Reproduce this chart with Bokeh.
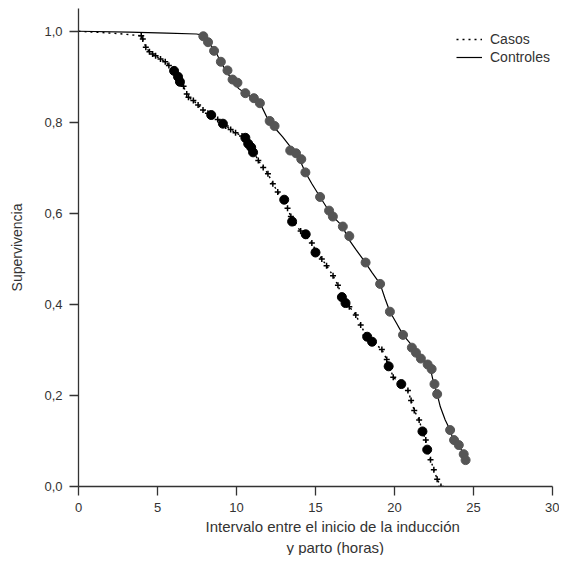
from bokeh.plotting import figure
from bokeh.models import Range1d, FixedTicker, CustomJSTickFormatter, Legend, LegendItem, Title
from bokeh.embed import file_html
from bokeh.resources import INLINE

# ---- data ----
casos_t = [0, 1.5, 2.5, 3.97, 4.07, 4.26, 4.49, 4.69, 4.88, 5.19, 5.49, 5.72, 6.03, 6.23, 6.42,
           6.65, 6.85, 6.96, 7.27, 7.57, 7.88, 8.19, 8.50, 8.81, 9.12, 9.32, 9.63, 9.94, 10.35,
           10.56, 10.76, 11.05, 11.38, 11.69, 11.99, 12.30, 12.61, 13.02, 13.23, 13.44, 13.64,
           14.06, 14.36, 14.77, 15.08, 15.40, 15.70, 16.11, 16.42, 16.73, 17.14, 17.55, 17.86,
           18.17, 18.58, 19.20, 19.51, 19.71, 19.92, 20.43, 20.85, 21.05, 21.25, 21.56, 21.77,
           21.98, 22.08, 22.28, 22.49, 22.70, 22.94]
casos_s = [1.0, 0.997, 0.995, 0.990, 0.983, 0.965, 0.955, 0.950, 0.946, 0.939, 0.933, 0.925,
           0.914, 0.903, 0.889, 0.879, 0.862, 0.855, 0.848, 0.838, 0.827, 0.820, 0.814, 0.806,
           0.799, 0.792, 0.784, 0.777, 0.770, 0.759, 0.750, 0.738, 0.716, 0.701, 0.687, 0.665,
           0.647, 0.629, 0.611, 0.593, 0.579, 0.561, 0.550, 0.535, 0.514, 0.500, 0.485, 0.463,
           0.442, 0.413, 0.395, 0.377, 0.355, 0.333, 0.319, 0.301, 0.279, 0.261, 0.240, 0.225,
           0.211, 0.189, 0.167, 0.146, 0.121, 0.102, 0.081, 0.059, 0.037, 0.016, 0.0]

casos_circ_t = [6.05, 6.30, 6.42, 8.40, 9.14, 10.56, 10.74, 10.93, 11.05, 13.02, 13.52, 14.38,
                15.0, 16.67, 16.90, 18.27, 18.58, 19.63, 20.43, 21.77, 22.07]
casos_circ_s = [0.913, 0.900, 0.889, 0.816, 0.797, 0.766, 0.753, 0.745, 0.734, 0.630, 0.582,
                0.554, 0.514, 0.416, 0.403, 0.329, 0.318, 0.264, 0.225, 0.121, 0.081]

ctrl_t = [0, 3.2, 5.6, 7.47, 8.09, 8.40, 8.70, 9.01, 9.32, 9.73, 10.14, 10.56, 11.07, 11.59,
          11.99, 12.41, 12.92, 13.44, 13.85, 14.36, 14.77, 15.29, 15.80, 16.22, 16.73, 17.04,
          17.55, 18.07, 18.58, 19.09, 19.40, 19.71, 20.12, 20.54, 21.05, 21.46, 21.87, 22.28,
          22.49, 22.70, 22.90, 23.21, 23.52, 23.72, 24.03, 24.34, 24.51, 24.60]
ctrl_s = [1.0, 0.998, 0.996, 0.994, 0.990, 0.968, 0.954, 0.932, 0.914, 0.892, 0.874, 0.864,
          0.853, 0.835, 0.806, 0.788, 0.768, 0.745, 0.730, 0.690, 0.665, 0.636, 0.608, 0.589,
          0.571, 0.546, 0.521, 0.496, 0.470, 0.445, 0.413, 0.384, 0.359, 0.333, 0.312, 0.290,
          0.276, 0.258, 0.225, 0.203, 0.175, 0.146, 0.124, 0.102, 0.092, 0.074, 0.059, 0.052]

ctrl_circ_t = [7.90, 8.20, 8.58, 9.01, 9.43, 9.75, 10.06, 10.56, 11.10, 11.48, 12.10, 12.41,
               13.40, 13.77, 14.10, 14.36, 15.29, 15.86, 16.10, 16.73, 17.14, 18.17, 19.09,
               19.71, 20.54, 21.10, 21.36, 21.67, 22.10, 22.35, 22.53, 22.70, 23.52, 23.77,
               24.07, 24.38, 24.50]
ctrl_circ_s = [0.989, 0.976, 0.957, 0.933, 0.914, 0.894, 0.887, 0.864, 0.853, 0.842, 0.803,
               0.792, 0.738, 0.732, 0.719, 0.690, 0.636, 0.606, 0.593, 0.571, 0.550, 0.492,
               0.445, 0.384, 0.333, 0.305, 0.294, 0.281, 0.268, 0.258, 0.225, 0.203, 0.124,
               0.102, 0.091, 0.071, 0.058]

x_ticks = [0, 5, 10, 15, 20, 25, 30]
y_ticks = [0.0, 0.2, 0.4, 0.6, 0.8, 1.0]

x_title = ["Intervalo  entre el inicio de la inducción", "y parto (horas)"]
y_title = "Supervivencia"

FONT = "Liberation Sans"
TXT = "#333333"

p = figure(width=559, height=555, output_backend="svg", toolbar_location=None,
           x_range=Range1d(0, 30), y_range=Range1d(0, 1.05),
           min_border_left=78, min_border_right=7, min_border_top=8, min_border_bottom=64)
p.xgrid.visible = False
p.ygrid.visible = False
p.outline_line_color = None
p.background_fill_color = "white"
p.border_fill_color = "white"

# curves
r_casos = p.line(casos_t, casos_s, line_color="black", line_width=1.4, line_dash="dotted")
p.scatter(casos_t[3:], casos_s[3:], marker="cross", size=6, line_width=1.5, color="black")
p.scatter(casos_circ_t, casos_circ_s, marker="circle", size=9, color="black")

r_ctrl = p.line(ctrl_t, ctrl_s, line_color="black", line_width=1.2)
p.scatter(ctrl_circ_t, ctrl_circ_s, marker="circle", size=9, color="#555555")

# axes
for ax in (p.xaxis[0], p.yaxis[0]):
    ax.axis_line_color = "#333333"
    ax.axis_line_width = 1.3
    ax.major_tick_line_color = "#333333"
    ax.major_tick_line_width = 1.3
    ax.major_tick_out = 9
    ax.major_tick_in = 0
    ax.minor_tick_line_color = None
    ax.major_label_text_font = FONT
    ax.major_label_text_font_size = "13px"
    ax.major_label_text_color = TXT
    ax.axis_label_text_font = FONT
    ax.axis_label_text_font_style = "normal"
    ax.axis_label_text_color = TXT

p.xaxis.ticker = FixedTicker(ticks=x_ticks)
p.yaxis.ticker = FixedTicker(ticks=y_ticks)
p.yaxis.formatter = CustomJSTickFormatter(code="return tick.toFixed(1).replace('.', ',');")
p.xaxis.major_label_standoff = 7
p.yaxis.major_label_standoff = 7

p.yaxis.axis_label = y_title
p.yaxis.axis_label_text_font_size = "14px"
p.yaxis.axis_label_standoff = 16

# two-line x-axis title, as two titles under the axis
for txt, off, so in zip(x_title, (127, 208), (3, 0)):
    p.add_layout(Title(text=txt, align="left", offset=off, standoff=so,
                       text_font=FONT, text_font_size="15px", text_font_style="normal",
                       text_color=TXT, text_line_height=0.8), "below")

legend = Legend(items=[LegendItem(label="Casos", renderers=[r_casos]),
                       LegendItem(label="Controles", renderers=[r_ctrl])],
                location=(378, 420), padding=0, margin=0, spacing=0,
                glyph_width=26, glyph_height=18, label_height=18, label_standoff=8,
                label_text_font=FONT, label_text_font_size="14px", label_text_color=TXT,
                border_line_alpha=0, background_fill_alpha=0)
p.add_layout(legend)

open("out.html", "w").write(file_html(p, INLINE))
